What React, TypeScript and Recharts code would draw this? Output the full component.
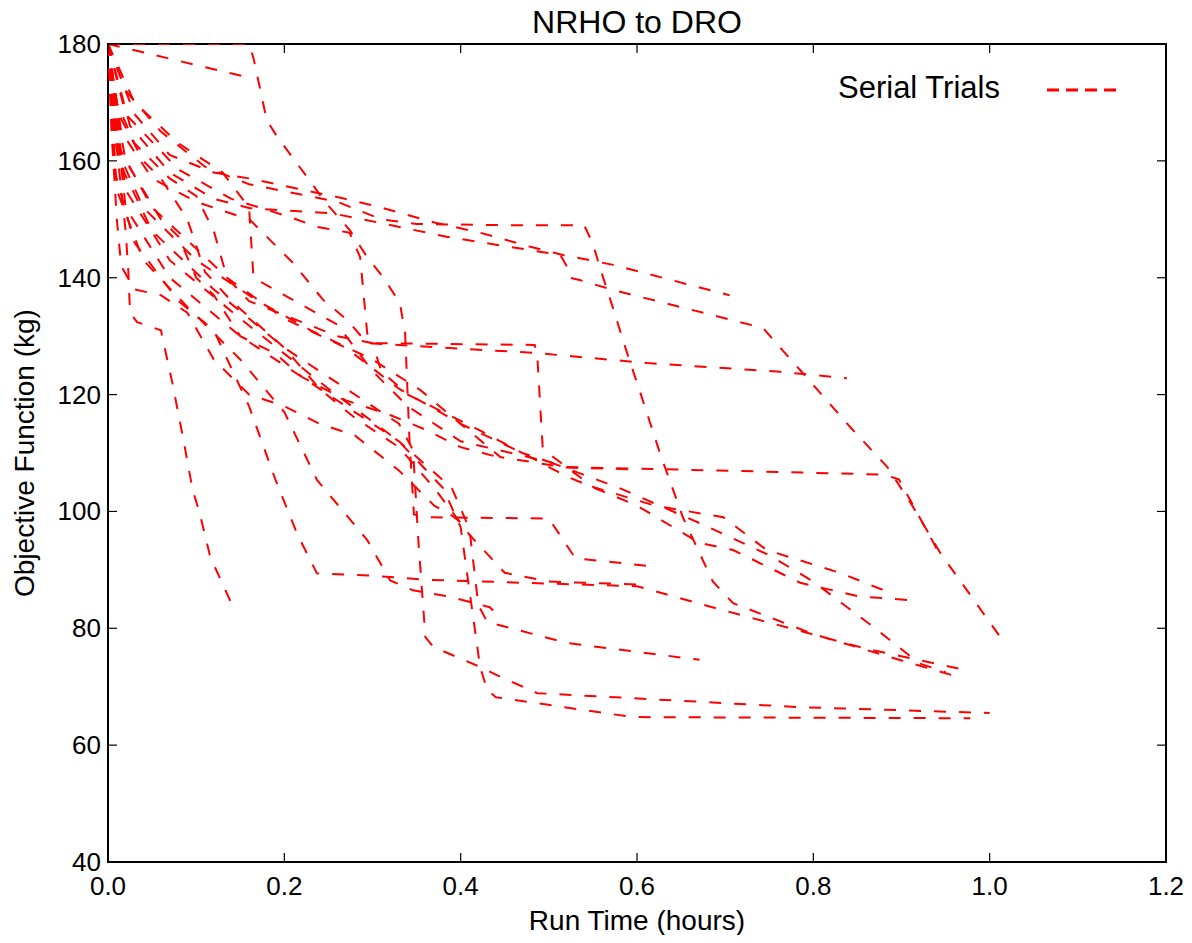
import React from "react";
import { LineChart, Line, XAxis, YAxis, ReferenceArea } from "recharts";

type Pt = [number, number];

const xTicks = [0, 0.2, 0.4, 0.6, 0.8, 1.0, 1.2];
const yTicks = [40, 60, 80, 100, 120, 140, 160, 180];

// serial trials: [run time (hours), objective (kg)]
const trial01: Pt[] = [[0, 180], [0.16, 180], [0.165, 177.6], [0.18, 167], [0.192, 164.1], [0.226, 157.2], [0.246, 153], [0.274, 148.2], [0.294, 143.5], [0.312, 140.1], [0.331, 135.7], [0.337, 130.5], [0.342, 112], [0.347, 99.5], [0.36, 99], [0.5, 98.8], [0.53, 92], [0.617, 90.6]];
const trial02: Pt[] = [[0, 180], [0.02, 172], [0.06, 165], [0.11, 159], [0.16, 156], [0.26, 153], [0.31, 150], [0.35, 149.2], [0.445, 149], [0.54, 149], [0.55, 145.8], [0.558, 141.7], [0.569, 136.6], [0.589, 127], [0.604, 120.2], [0.626, 110], [0.652, 99], [0.686, 88], [0.709, 84.3], [0.8, 79], [0.9, 74.5], [0.966, 71.6]];
const trial03: Pt[] = [[0, 180], [0.03, 168], [0.07, 161], [0.12, 158], [0.16, 157], [0.26, 153.8], [0.308, 152.1], [0.369, 149.5], [0.422, 147.7], [0.479, 145.3], [0.516, 143.9], [0.573, 142.2], [0.705, 137]];
const trial04: Pt[] = [[0, 180], [0.025, 166], [0.07, 158], [0.12, 153.5], [0.161, 151.9], [0.255, 151], [0.308, 149.4], [0.384, 147], [0.513, 143.9], [0.521, 141.8], [0.524, 140], [0.535, 139.6], [0.573, 137.9], [0.743, 131.4], [0.762, 128.1], [0.785, 124.2], [0.842, 114.4], [0.884, 107.6], [0.913, 100.8], [0.944, 92.9], [1.012, 78.5]];
const trial05: Pt[] = [[0, 180], [0.015, 165], [0.05, 157], [0.1, 153], [0.161, 149.9], [0.21, 142.5], [0.244, 136.2], [0.271, 132.8], [0.294, 128.8], [0.35, 128.3], [0.487, 127.1], [0.611, 125.4], [0.762, 123.9], [0.838, 122.8]];
const trial06: Pt[] = [[0, 180], [0.02, 168], [0.08, 158.5], [0.14, 153.5], [0.206, 150.4], [0.237, 148.7], [0.274, 147.7], [0.286, 143.5], [0.294, 130.5], [0.3, 128.8], [0.484, 128.5], [0.487, 126.4], [0.493, 111], [0.505, 109.3], [0.55, 104.2], [0.62, 101], [0.698, 99], [0.747, 93.4], [0.777, 92], [0.83, 89.5], [0.88, 86.5]];
const trial07: Pt[] = [[0, 180], [0.01, 162], [0.04, 152], [0.1, 143], [0.17, 136], [0.23, 131], [0.3, 126], [0.354, 120.8], [0.445, 109.3], [0.516, 107.6], [0.694, 107], [0.88, 106.3], [0.897, 105.5], [0.944, 92.5]];
const trial08: Pt[] = [[0, 180], [0.008, 158], [0.03, 146], [0.08, 136], [0.12, 131], [0.16, 118], [0.19, 105.4], [0.215, 96], [0.237, 89.4], [0.3, 89], [0.36, 88.3], [0.6, 87.2], [0.7, 83], [0.86, 76.5], [0.978, 72.7]];
const trial09: Pt[] = [[0, 180], [0.01, 155], [0.04, 143], [0.09, 135], [0.15, 126], [0.2, 117], [0.237, 105.4], [0.294, 95.1], [0.32, 88.2], [0.346, 86.5], [0.388, 85.4], [0.433, 83.6], [0.44, 82.6]];
const trial10: Pt[] = [[0, 180], [0.02, 152], [0.07, 140], [0.15, 130], [0.25, 120], [0.33, 112], [0.39, 104], [0.41, 97], [0.42, 84], [0.43, 81.1], [0.52, 77.5], [0.671, 74.6]];
const trial11: Pt[] = [[0, 180], [0.012, 160], [0.05, 148], [0.12, 138], [0.2, 128], [0.27, 121], [0.33, 115], [0.346, 110.5], [0.352, 95], [0.36, 78.5], [0.369, 76.8], [0.422, 73.4], [0.445, 71.7], [0.487, 68.9], [0.785, 66.5], [1.0, 65.5]];
const trial12: Pt[] = [[0, 180], [0.02, 155], [0.07, 143], [0.15, 133], [0.25, 121], [0.33, 112], [0.38, 104], [0.4, 97.3], [0.422, 73.4], [0.43, 69.5], [0.44, 68.2], [0.595, 64.8], [0.978, 64.6]];
const trial13: Pt[] = [[0, 180], [0.008, 165], [0.02, 148], [0.023, 141.3], [0.025, 134], [0.033, 132.4], [0.06, 131], [0.073, 122], [0.085, 112.7], [0.096, 103.7], [0.104, 99.7], [0.116, 92.2], [0.142, 83.6]];
const trial14: Pt[] = [[0, 180], [0.153, 174.5]];
const trial15: Pt[] = [[0, 180], [0.03, 170], [0.08, 163], [0.13, 158], [0.16, 152], [0.165, 140], [0.2, 137], [0.26, 132], [0.3, 124], [0.34, 118], [0.4, 112], [0.5, 108.5], [0.58, 104], [0.671, 98], [0.75, 92.5], [0.8, 88], [0.87, 80], [0.92, 74], [0.95, 72.5]];
const trial16: Pt[] = [[0, 180], [0.01, 163], [0.05, 152], [0.1, 145], [0.135, 140], [0.2, 133], [0.27, 128], [0.33, 121], [0.4, 115], [0.47, 110], [0.52, 106], [0.6, 101], [0.671, 94.6], [0.709, 93.4], [0.785, 87.8], [0.85, 85.5], [0.91, 84.8]];
const trial17: Pt[] = [[0, 180], [0.012, 168], [0.04, 160], [0.06, 157], [0.09, 150], [0.11, 141], [0.14, 136], [0.2, 128], [0.24, 121], [0.28, 116], [0.33, 111], [0.37, 104], [0.41, 96], [0.45, 89.5], [0.5, 88], [0.6, 87.5]];
const trial18: Pt[] = [[0, 180], [0.01, 170], [0.03, 163], [0.05, 160], [0.07, 157], [0.1, 154], [0.12, 148], [0.135, 140], [0.16, 136], [0.21, 133], [0.26, 130], [0.3, 128.8], [0.31, 124], [0.34, 120], [0.38, 117], [0.42, 114], [0.47, 110], [0.52, 107.5], [0.6, 107.2]];
const trial19: Pt[] = [[0, 180], [0.006, 172], [0.02, 160], [0.04, 155], [0.06, 150], [0.08, 147], [0.1, 140], [0.12, 137], [0.15, 130], [0.19, 127], [0.22, 123], [0.27, 119], [0.32, 116.5], [0.36, 114], [0.4, 111], [0.45, 109]];
const trial20: Pt[] = [[0, 180], [0.004, 165], [0.01, 150], [0.015, 142], [0.03, 138], [0.06, 137], [0.09, 134], [0.12, 126], [0.16, 120], [0.2, 118], [0.24, 115], [0.28, 113], [0.33, 107], [0.37, 101], [0.39, 99.3], [0.41, 97]];

const trials: Pt[][] = [
  trial01, trial02, trial03, trial04, trial05, trial06, trial07, trial08, trial09, trial10,
  trial11, trial12, trial13, trial14, trial15, trial16, trial17, trial18, trial19, trial20,
];

const W = 1176;
const H = 927;
const Y_W = 100;
const X_H = 73;
const PT = 36;
const PR = W - 18;
const PL = Y_W;
const PB = H - X_H;
const FONT = '"Liberation Sans", Arial, Helvetica, sans-serif';
const RED = "#ff0000";

const XTick = (props: any) => {
  const { x, payload } = props;
  return (
    <g>
      <line x1={x} x2={x} y1={PB} y2={PB - 9} stroke="#000" strokeWidth={1.2} />
      <line x1={x} x2={x} y1={PT} y2={PT + 9} stroke="#000" strokeWidth={1.2} />
      <text x={x} y={PB + 33} textAnchor="middle" fontSize={26} fontFamily={FONT} fill="#000">
        {Number(payload.value).toFixed(1)}
      </text>
    </g>
  );
};

const YTick = (props: any) => {
  const { y, payload } = props;
  return (
    <g>
      <line x1={PL} x2={PL + 9} y1={y} y2={y} stroke="#000" strokeWidth={1.2} />
      <line x1={PR} x2={PR - 9} y1={y} y2={y} stroke="#000" strokeWidth={1.2} />
      <text x={PL - 7} y={y + 9} textAnchor="end" fontSize={26} fontFamily={FONT} fill="#000">
        {payload.value}
      </text>
    </g>
  );
};

const App: React.FC = () => {
  return (
    <div style={{ position: "relative", width: W, height: H, fontFamily: FONT }}>
      <LineChart width={W} height={H} margin={{ top: PT, right: 18, left: 0, bottom: 0 }}>
        <XAxis
          dataKey="x"
          type="number"
          domain={[0, 1.2]}
          ticks={xTicks}
          interval={0}
          height={X_H}
          axisLine={false}
          tickLine={false}
          tick={<XTick />}
          allowDataOverflow
        />
        <YAxis
          type="number"
          domain={[40, 180]}
          ticks={yTicks}
          interval={0}
          width={Y_W}
          axisLine={false}
          tickLine={false}
          tick={<YTick />}
          allowDataOverflow
        />
        {trials.map((pts, i) => (
          <Line
            key={i}
            data={pts.map(([x, y]) => ({ x, y }))}
            dataKey="y"
            type="linear"
            stroke={RED}
            strokeWidth={2}
            strokeDasharray="12 13"
            dot={false}
            activeDot={false}
            legendType="none"
            isAnimationActive={false}
          />
        ))}
        <ReferenceArea
          x1={0}
          x2={1.2}
          y1={40}
          y2={180}
          fill="none"
          fillOpacity={0}
          stroke="#000"
          strokeWidth={2}
          ifOverflow="visible"
        />
      </LineChart>

      <div style={{ position: "absolute", left: PL, width: PR - PL, top: -6, height: 40, lineHeight: "40px", textAlign: "center", fontSize: 32 }}>
        NRHO to DRO
      </div>
      <div style={{ position: "absolute", left: PL, width: PR - PL, top: H - 32, height: 36, lineHeight: "36px", textAlign: "center", fontSize: 28 }}>
        Run Time (hours)
      </div>
      <div style={{ position: "absolute", left: 17 - 250, top: (PT + PB) / 2 - 18, width: 500, height: 36, lineHeight: "36px", textAlign: "center", fontSize: 28, transform: "rotate(-90deg)" }}>
        Objective Function (kg)
      </div>
      <div style={{ position: "absolute", left: 830, top: 60, height: 40, display: "flex", alignItems: "center", fontSize: 31 }}>
        <span>Serial Trials</span>
        <svg width={80} height={20} style={{ marginLeft: 45 }}>
          <line x1={2} x2={72} y1={12} y2={12} stroke={RED} strokeWidth={3} strokeDasharray="12 7" />
        </svg>
      </div>
    </div>
  );
};

export default App;
